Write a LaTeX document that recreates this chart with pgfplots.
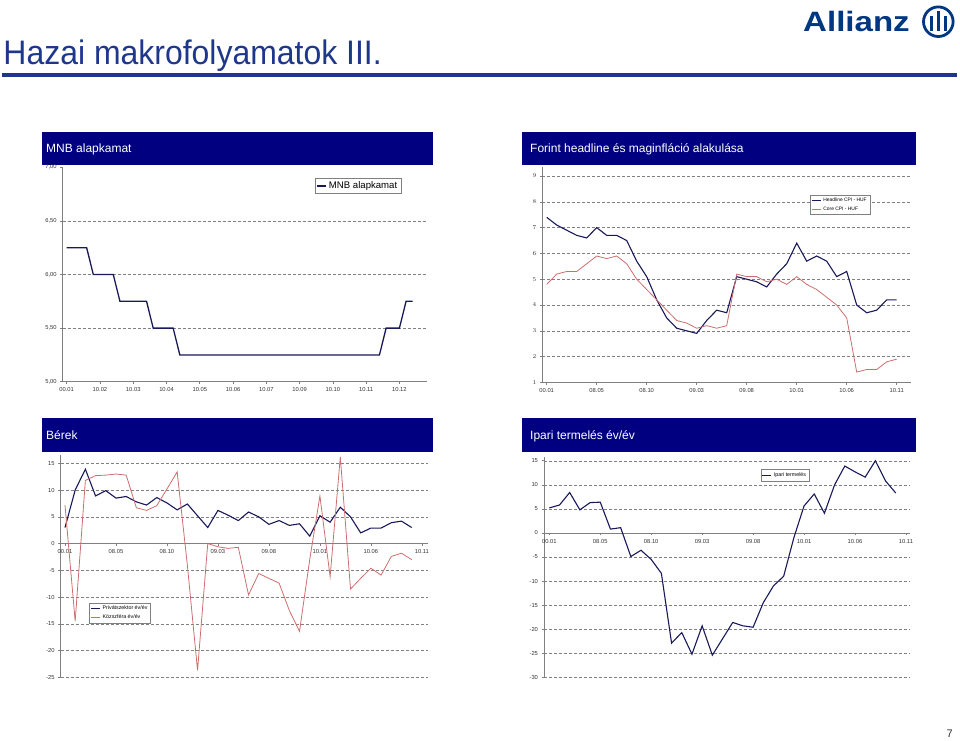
\documentclass[border=0pt]{standalone}
\usepackage{pgfplots}
\pgfplotsset{compat=1.18}
\usepackage{pgfplotstable}
\usepackage{fontspec}
\setmainfont{Liberation Sans}

\definecolor{hdr}{RGB}{0,0,128}
\definecolor{titleblue}{RGB}{30,55,140}
\definecolor{allianz}{RGB}{0,55,129}
\definecolor{navyline}{RGB}{25,25,90}
\definecolor{roseline}{RGB}{205,110,110}
\definecolor{axisgray}{RGB}{128,128,128}

% MNB alapkamat (one row per observation)
\pgfplotstableread{
i  r
0  6.25
1  6.25
2  6.25
3  6.25
4  6.00
5  6.00
6  6.00
7  6.00
8  5.75
9  5.75
10 5.75
11 5.75
12 5.75
13 5.50
14 5.50
15 5.50
16 5.50
17 5.25
18 5.25
19 5.25
20 5.25
21 5.25
22 5.25
23 5.25
24 5.25
25 5.25
26 5.25
27 5.25
28 5.25
29 5.25
30 5.25
31 5.25
32 5.25
33 5.25
34 5.25
35 5.25
36 5.25
37 5.25
38 5.25
39 5.25
40 5.25
41 5.25
42 5.25
43 5.25
44 5.25
45 5.25
46 5.25
47 5.25
48 5.50
49 5.50
50 5.50
51 5.75
52 5.75
}\mnb

% headline / core CPI
\pgfplotstableread{
i  head core
0  7.4  4.8
1  7.1  5.2
2  6.9  5.3
3  6.7  5.3
4  6.6  5.6
5  7.0  5.9
6  6.7  5.8
7  6.7  5.9
8  6.5  5.6
9  5.7  5.0
10 5.1  4.6
11 4.2  4.2
12 3.5  3.8
13 3.1  3.4
14 3.0  3.3
15 2.9  3.1
16 3.4  3.2
17 3.8  3.1
18 3.7  3.2
19 5.1  5.2
20 5.0  5.1
21 4.9  5.1
22 4.7  4.9
23 5.2  5.0
24 5.6  4.8
25 6.4  5.1
26 5.7  4.8
27 5.9  4.6
28 5.7  4.3
29 5.1  4.0
30 5.3  3.5
31 4.0  1.4
32 3.7  1.5
33 3.8  1.5
34 4.2  1.8
35 4.2  1.9
}\cpi

% berek: private / public
\pgfplotstableread{
i  priv pub
0  3.0   7.2
1  10.0 -14.5
2  13.9  11.8
3  8.9   12.7
4  9.9   12.8
5  8.5   13.0
6  8.8   12.8
7  7.8   6.7
8  7.2   6.2
9  8.6   7.1
10 7.6   10.2
11 6.3   13.4
12 7.4  -4.0
13 5.2  -23.7
14 3.0   0.0
15 6.2  -0.6
16 5.3  -0.9
17 4.3  -0.7
18 5.9  -9.6
19 5.0  -5.6
20 3.6  -6.5
21 4.3  -7.4
22 3.4  -12.5
23 3.7  -16.4
24 1.4  -3.0
25 5.2   8.9
26 4.0  -6.2
27 6.8   16.2
28 5.0  -8.5
29 2.0  -6.5
30 2.9  -4.6
31 2.9  -5.9
32 3.9  -2.4
33 4.2  -1.8
34 3.0  -3.0
}\berek

% ipari termeles
\pgfplotstableread{
i  ip
0  5.2
1  5.8
2  8.4
3  4.8
4  6.3
5  6.4
6  0.8
7  1.1
8  -4.9
9  -3.6
10 -5.5
11 -8.4
12 -22.9
13 -20.7
14 -25.2
15 -19.3
16 -25.4
17 -22.0
18 -18.6
19 -19.3
20 -19.6
21 -14.5
22 -11.0
23 -9.0
24 -1.0
25 5.6
26 8.1
27 4.1
28 10.0
29 13.9
30 12.7
31 11.6
32 15.0
33 10.8
34 8.3
}\ipari

\pgfplotsset{
  slide/.style={
    scale only axis,
    anchor=north west,
    axis y line*=left,
    axis x line*=bottom,
    axis line style={axisgray, line width=0.8pt},
    tick style={axisgray, line width=0.6pt},
    tick align=outside,
    major tick length=2.5pt,
    tick label style={font=\fontsize{5.8}{7}\selectfont, text=black!80},
    major grid style={axisgray, line width=0.5pt, dash pattern=on 3pt off 2pt},
    legend cell align=left,
    legend image code/.code={\draw[##1] (0pt,0pt) -- (9pt,0pt);},
  },
}
\tikzset{
  hdrnode/.style={anchor=base west, inner sep=0, text=white,
    font=\fontsize{12}{12}\selectfont},
}

\begin{document}
\begin{tikzpicture}
\useasboundingbox (0,0) rectangle (960pt,-740pt);

% slide head
\node[anchor=base west, inner sep=0, text=titleblue,
  font=\fontsize{34}{34}\selectfont, xscale=0.94] at (3.3pt,-64.3pt)
  {Hazai makrofolyamatok III.};
\fill[titleblue] (2pt,-72.7pt) rectangle (957pt,-76.5pt);
\node[anchor=base west, inner sep=0, text=allianz,
  font=\fontsize{28}{28}\selectfont\bfseries, xscale=1.18] at (803pt,-31.7pt) {Allianz};
\draw[allianz, line width=2.8pt] (938.3pt,-21.7pt) circle (14.8pt);
\fill[allianz] (929.8pt,-16pt) rectangle (932.8pt,-30.5pt);
\fill[allianz] (936.6pt,-11pt) rectangle (940pt,-31pt);
\fill[allianz] (943.8pt,-16pt) rectangle (946.8pt,-30.5pt);
\node[anchor=base east, inner sep=0, text=black!80,
  font=\fontsize{11}{11}\selectfont] at (953pt,-737pt) {7};

% panel headers
\fill[hdr] (42pt,-132pt) rectangle (433pt,-165pt);
\fill[hdr] (522pt,-132pt) rectangle (916pt,-165pt);
\fill[hdr] (42pt,-418pt) rectangle (433pt,-452pt);
\fill[hdr] (522pt,-418pt) rectangle (916pt,-452pt);
\node[hdrnode] at (46pt,-152.3pt) {MNB alapkamat};
\node[hdrnode] at (530pt,-152.3pt) {Forint headline és maginfláció alakulása};
\node[hdrnode] at (46pt,-439.5pt) {Bérek};
\node[hdrnode] at (530pt,-439.5pt) {Ipari termelés év/év};

% MNB alapkamat
\begin{axis}[slide,
  at={(62.7pt,-167.3pt)}, width=364pt, height=214.4pt,
  xmin=-0.6, xmax=54.1, ymin=5, ymax=7,
  xtick={0,5,...,50},
  xticklabels={00.01,10.02,10.03,10.04,10.05,10.06,10.07,10.09,10.10,10.11,10.12},
  ytick={5,5.5,6,6.5,7},
  yticklabels={{5,00},{5,50},{6,00},{6,50},{7,00}},
  extra y ticks={5.5,6,6.5}, extra y tick labels={},
  extra y tick style={grid=major, major tick length=0pt},
  legend style={at={(axis description cs:0.693,0.95)}, anchor=north west,
    draw=axisgray, font=\fontsize{9.6}{10}\selectfont, inner sep=1.5pt},
]
\addplot[navyline, line width=1.3pt] table[x=i, y=r] {\mnb};
\addlegendentry{MNB alapkamat}
\end{axis}

% headline / core CPI
\begin{axis}[slide,
  at={(542.3pt,-167pt)}, width=368.4pt, height=215.4pt,
  xmin=-0.44, xmax=36.4, ymin=1, ymax=9.35,
  xtick={0,5,...,35},
  xticklabels={00.01,08.05,08.10,09.03,09.08,10.01,10.06,10.11},
  ytick={1,2,...,9}, ymajorgrids,
  legend style={at={(axis description cs:0.727,0.870)}, anchor=north west,
    draw=axisgray, font=\fontsize{4.9}{5.4}\selectfont, inner sep=1pt,
    row sep=-0.5pt},
]
\addplot[navyline, line width=1.1pt] table[x=i, y=head] {\cpi};
\addlegendentry{Headline CPI - HUF}
\addplot[roseline, line width=0.8pt] table[x=i, y=core] {\cpi};
\addlegendentry{Core CPI - HUF}
\end{axis}

% berek
\begin{axis}[slide,
  axis x line*=middle,
  at={(60.7pt,-455.3pt)}, width=367.3pt, height=222pt,
  xmin=-0.42, xmax=35.6, ymin=-25, ymax=16.5,
  xtick={0,5,...,35},
  xticklabels={00.01,08.05,08.10,09.03,09.08,10.01,10.06,10.11},
  ytick={-25,-20,...,15},
  yticklabels={-25,-20,-15,-10,-5,0,5,10,15},
  ymajorgrids,
  legend style={at={(axis description cs:0.078,0.336)}, anchor=north west,
    draw=axisgray, font=\fontsize{5.3}{6}\selectfont, inner sep=1pt,
    row sep=-0.5pt},
]
\addplot[navyline, line width=1.1pt] table[x=i, y=priv] {\berek};
\addlegendentry{Privátszektor év/év}
\addplot[roseline, line width=0.8pt] table[x=i, y=pub] {\berek};
\addlegendentry{Közszféra év/év}
\end{axis}

% ipari termeles
\begin{axis}[slide,
  axis x line*=middle,
  at={(544pt,-456.9pt)}, width=366pt, height=220.4pt,
  xmin=-0.52, xmax=35.4, ymin=-30, ymax=15.8,
  xtick={0,5,...,35},
  xticklabels={00.01,08.05,08.10,09.03,09.08,10.01,10.06,10.11},
  ytick={-30,-25,...,15},
  yticklabels={-30,-25,-20,-15,-10,-5,0,5,10,15},
  ymajorgrids,
  legend style={at={(axis description cs:0.592,0.944)}, anchor=north west,
    draw=axisgray, font=\fontsize{5.3}{6}\selectfont, inner sep=1pt},
]
\addplot[navyline, line width=1.1pt] table[x=i, y=ip] {\ipari};
\addlegendentry{Ipari termelés}
\end{axis}

\end{tikzpicture}
\end{document}
